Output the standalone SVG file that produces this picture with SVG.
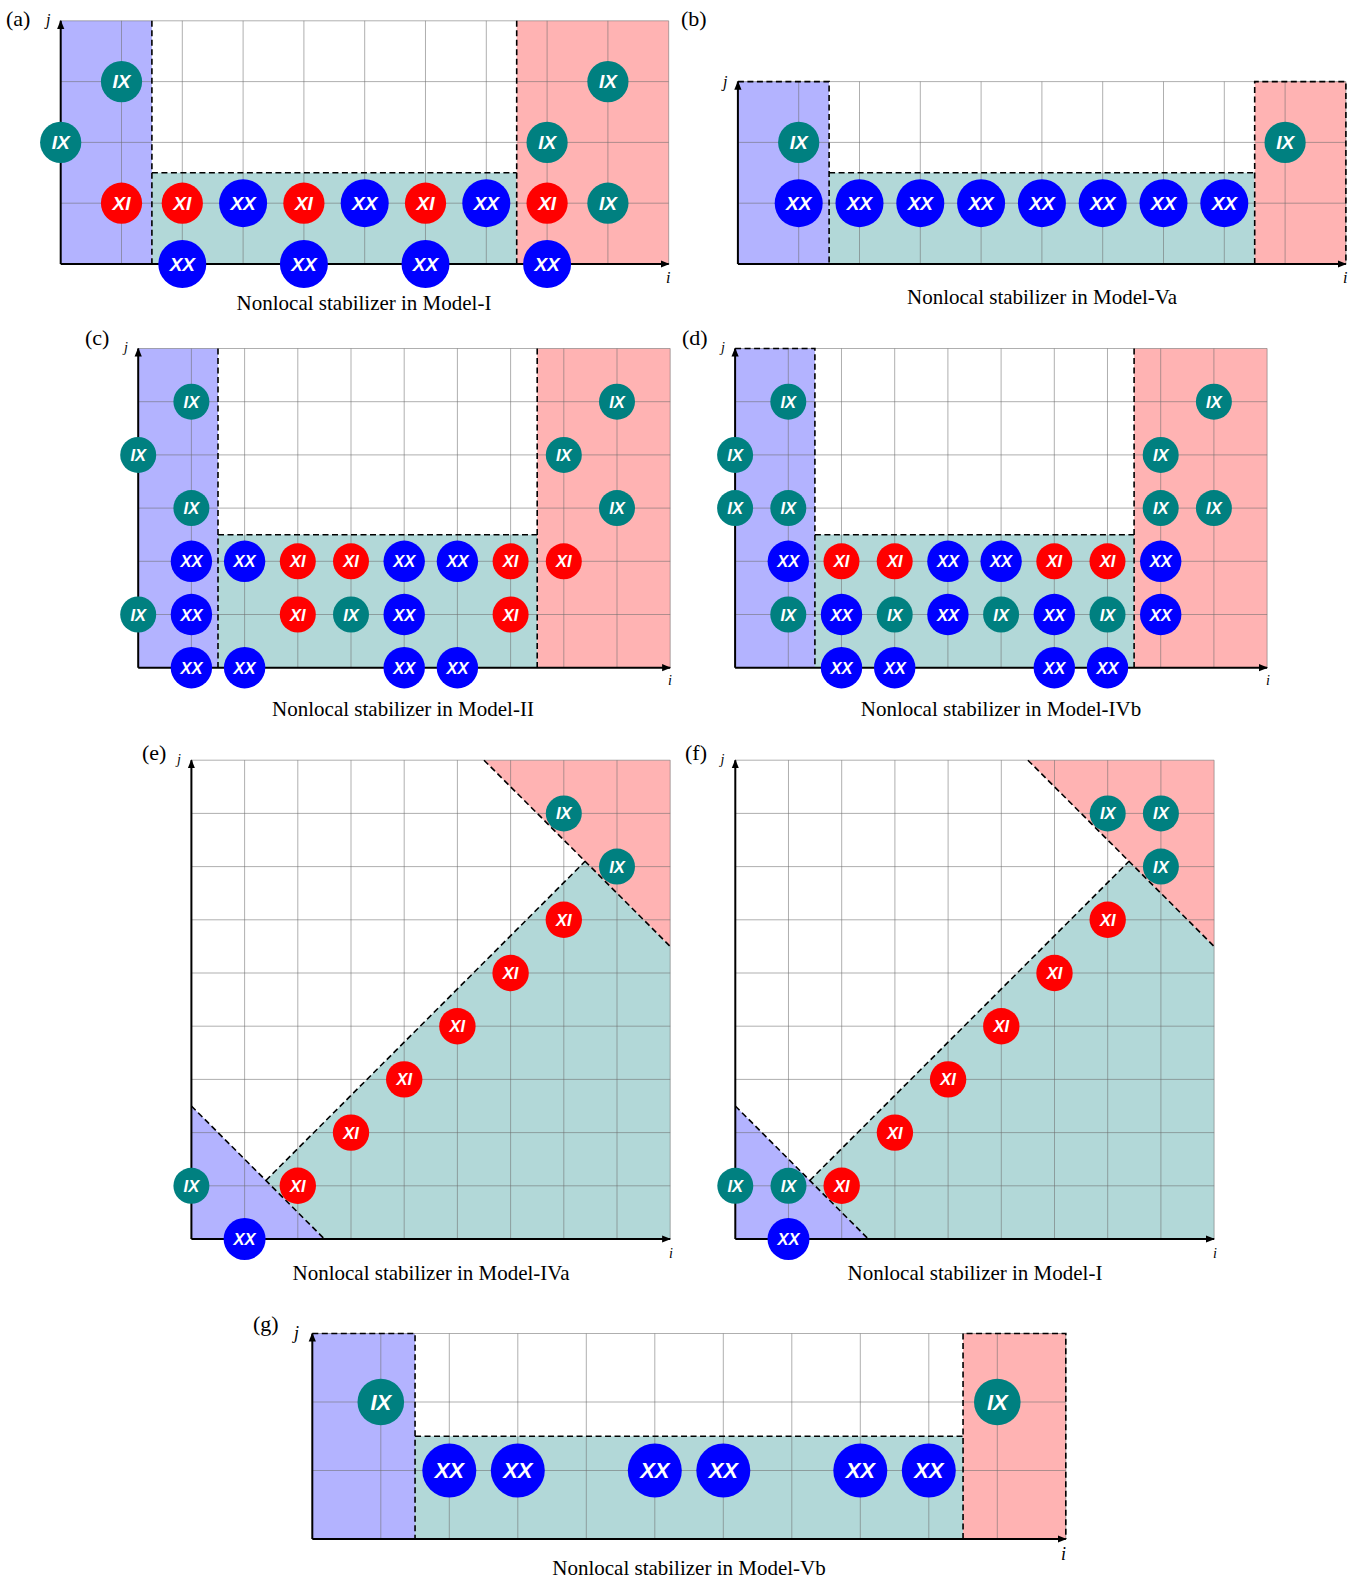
<svg xmlns="http://www.w3.org/2000/svg" width="1355" height="1581" viewBox="0 0 1355 1581">
<style>
.bg{fill:#fff}
.blue{fill:#B3B3FF}
.teal{fill:#B2D8D8}
.pink{fill:#FFB3B3}
.grid{fill:none;stroke:#6e6e6e;stroke-width:1;stroke-opacity:.55}
.dash{fill:none;stroke:#000;stroke-width:1.6;stroke-dasharray:6 3.5}
.axis{fill:none;stroke:#000;stroke-width:2;marker-end:url(#arr)}
.ix circle{fill:#008080}
.xx circle{fill:#0000FF}
.xi circle{fill:#FF0000}
.n text{fill:#fff;font-family:"Liberation Sans",Arial,sans-serif;font-weight:bold;font-style:italic;text-anchor:middle;dominant-baseline:central}
.s18 .n text{font-size:19px}
.s15 .n text{font-size:16.5px}
.s21 .n text{font-size:22px}
.lab{font-family:"Liberation Serif","Times New Roman",serif;font-size:22px;fill:#000}
.ax{font-family:"Liberation Serif","Times New Roman",serif;font-style:italic;font-size:16px;fill:#000}
.cap{font-family:"Liberation Serif","Times New Roman",serif;font-size:21px;fill:#000;text-anchor:middle}
</style>
<defs>
<marker id="arr" viewBox="0 0 10 10" refX="9" refY="5" markerWidth="4.5" markerHeight="4.5" orient="auto" markerUnits="strokeWidth"><path d="M0,1 L10,5 L0,9 z" fill="#000"/></marker>
</defs>
<rect class="bg" x="0" y="0" width="1355" height="1581"/>

<!-- Panel A -->
<g id="panel-a" class="s18" transform="translate(60.7,264)">
  <rect class="blue" x="0" y="-243.2" width="91.2" height="243.2"/>
  <rect class="teal" x="91.2" y="-91.2" width="364.8" height="91.2"/>
  <rect class="pink" x="456" y="-243.2" width="152" height="243.2"/>
  <path class="grid" d="M60.8,0V-243.2M121.6,0V-243.2M182.4,0V-243.2M243.2,0V-243.2M304,0V-243.2M364.8,0V-243.2M425.6,0V-243.2M486.4,0V-243.2M547.2,0V-243.2M608,0V-243.2M0,-60.8H608M0,-121.6H608M0,-182.4H608M0,-243.2H608"/>
  <path class="dash" d="M91.2,-243.2V0M456,-243.2V0M91.2,-91.2H456"/>
  <g id="a-axes"><path class="axis" d="M0,0H608"/><path class="axis" d="M0,0V-243.2"/></g>
  <g id="a-n1" class="n ix" transform="translate(60.8,-182.4)"><circle r="20.6"/><text>IX</text></g>
  <g id="a-n2" class="n ix" transform="translate(0,-121.6)"><circle r="20.6"/><text>IX</text></g>
  <g id="a-n3" class="n xi" transform="translate(60.8,-60.8)"><circle r="20.6"/><text>XI</text></g>
  <g id="a-n4" class="n xi" transform="translate(121.6,-60.8)"><circle r="20.6"/><text>XI</text></g>
  <g id="a-n5" class="n xx" transform="translate(182.4,-60.8)"><circle r="24"/><text>XX</text></g>
  <g id="a-n6" class="n xi" transform="translate(243.2,-60.8)"><circle r="20.6"/><text>XI</text></g>
  <g id="a-n7" class="n xx" transform="translate(304,-60.8)"><circle r="24"/><text>XX</text></g>
  <g id="a-n8" class="n xi" transform="translate(364.8,-60.8)"><circle r="20.6"/><text>XI</text></g>
  <g id="a-n9" class="n xx" transform="translate(425.6,-60.8)"><circle r="24"/><text>XX</text></g>
  <g id="a-n10" class="n xi" transform="translate(486.4,-60.8)"><circle r="20.6"/><text>XI</text></g>
  <g id="a-n11" class="n ix" transform="translate(547.2,-60.8)"><circle r="20.6"/><text>IX</text></g>
  <g id="a-n12" class="n xx" transform="translate(121.6,0)"><circle r="24"/><text>XX</text></g>
  <g id="a-n13" class="n xx" transform="translate(243.2,0)"><circle r="24"/><text>XX</text></g>
  <g id="a-n14" class="n xx" transform="translate(364.8,0)"><circle r="24"/><text>XX</text></g>
  <g id="a-n15" class="n xx" transform="translate(486.4,0)"><circle r="24"/><text>XX</text></g>
  <g id="a-n16" class="n ix" transform="translate(547.2,-182.4)"><circle r="20.6"/><text>IX</text></g>
  <g id="a-n17" class="n ix" transform="translate(486.4,-121.6)"><circle r="20.6"/><text>IX</text></g>
</g>
<text class="lab" x="6" y="26">(a)</text>
<text class="ax" x="46" y="25">j</text>
<text class="ax" x="666" y="283">i</text>
<text class="cap" x="364" y="310">Nonlocal stabilizer in Model-I</text>

<!-- Panel B -->
<g id="panel-b" class="s18" transform="translate(737.9,264)">
  <rect class="blue" x="0" y="-182.4" width="91.2" height="182.4"/>
  <rect class="teal" x="91.2" y="-91.2" width="425.6" height="91.2"/>
  <rect class="pink" x="516.8" y="-182.4" width="91.2" height="182.4"/>
  <path class="grid" d="M60.8,0V-182.4M121.6,0V-182.4M182.4,0V-182.4M243.2,0V-182.4M304,0V-182.4M364.8,0V-182.4M425.6,0V-182.4M486.4,0V-182.4M547.2,0V-182.4M608,0V-182.4M0,-60.8H608M0,-121.6H608M0,-182.4H608"/>
  <path class="dash" d="M0,-182.4H91.2V0M91.2,-91.2H516.8M516.8,0V-182.4H608V0"/>
  <g id="b-axes"><path class="axis" d="M0,0H608"/><path class="axis" d="M0,0V-182.4"/></g>
  <g id="b-n1" class="n ix" transform="translate(60.8,-121.6)"><circle r="20.6"/><text>IX</text></g>
  <g id="b-n2" class="n xx" transform="translate(60.8,-60.8)"><circle r="24"/><text>XX</text></g>
  <g id="b-n3" class="n xx" transform="translate(121.6,-60.8)"><circle r="24"/><text>XX</text></g>
  <g id="b-n4" class="n xx" transform="translate(182.4,-60.8)"><circle r="24"/><text>XX</text></g>
  <g id="b-n5" class="n xx" transform="translate(243.2,-60.8)"><circle r="24"/><text>XX</text></g>
  <g id="b-n6" class="n xx" transform="translate(304,-60.8)"><circle r="24"/><text>XX</text></g>
  <g id="b-n7" class="n xx" transform="translate(364.8,-60.8)"><circle r="24"/><text>XX</text></g>
  <g id="b-n8" class="n xx" transform="translate(425.6,-60.8)"><circle r="24"/><text>XX</text></g>
  <g id="b-n9" class="n xx" transform="translate(486.4,-60.8)"><circle r="24"/><text>XX</text></g>
  <g id="b-n10" class="n ix" transform="translate(547.2,-121.6)"><circle r="20.6"/><text>IX</text></g>
</g>
<text class="lab" x="681" y="26">(b)</text>
<text class="ax" x="723" y="87">j</text>
<text class="ax" x="1343" y="283">i</text>
<text class="cap" x="1042" y="304">Nonlocal stabilizer in Model-Va</text>

<!-- Panel C -->
<g id="panel-c" class="s15" transform="translate(138.2,667.7)">
  <rect class="blue" x="0" y="-319.2" width="79.8" height="319.2"/>
  <rect class="teal" x="79.8" y="-133" width="319.2" height="133"/>
  <rect class="pink" x="399" y="-319.2" width="133" height="319.2"/>
  <path class="grid" d="M53.2,0V-319.2M106.4,0V-319.2M159.6,0V-319.2M212.8,0V-319.2M266,0V-319.2M319.2,0V-319.2M372.4,0V-319.2M425.6,0V-319.2M478.8,0V-319.2M532,0V-319.2M0,-53.2H532M0,-106.4H532M0,-159.6H532M0,-212.8H532M0,-266H532M0,-319.2H532"/>
  <path class="dash" d="M79.8,-319.2V0M399,-319.2V0M79.8,-133H399"/>
  <g id="c-axes"><path class="axis" d="M0,0H532"/><path class="axis" d="M0,0V-319.2"/></g>
  <g id="c-n1" class="n ix" transform="translate(53.2,-266)"><circle r="18"/><text>IX</text></g>
  <g id="c-n2" class="n ix" transform="translate(0,-212.8)"><circle r="18"/><text>IX</text></g>
  <g id="c-n3" class="n ix" transform="translate(53.2,-159.6)"><circle r="18"/><text>IX</text></g>
  <g id="c-n4" class="n xx" transform="translate(53.2,-106.4)"><circle r="20.7"/><text>XX</text></g>
  <g id="c-n5" class="n xx" transform="translate(106.4,-106.4)"><circle r="20.7"/><text>XX</text></g>
  <g id="c-n6" class="n xi" transform="translate(159.6,-106.4)"><circle r="18"/><text>XI</text></g>
  <g id="c-n7" class="n xi" transform="translate(212.8,-106.4)"><circle r="18"/><text>XI</text></g>
  <g id="c-n8" class="n xx" transform="translate(266,-106.4)"><circle r="20.7"/><text>XX</text></g>
  <g id="c-n9" class="n xx" transform="translate(319.2,-106.4)"><circle r="20.7"/><text>XX</text></g>
  <g id="c-n10" class="n xi" transform="translate(372.4,-106.4)"><circle r="18"/><text>XI</text></g>
  <g id="c-n11" class="n xi" transform="translate(425.6,-106.4)"><circle r="18"/><text>XI</text></g>
  <g id="c-n12" class="n ix" transform="translate(0,-53.2)"><circle r="18"/><text>IX</text></g>
  <g id="c-n13" class="n xx" transform="translate(53.2,-53.2)"><circle r="20.7"/><text>XX</text></g>
  <g id="c-n14" class="n xi" transform="translate(159.6,-53.2)"><circle r="18"/><text>XI</text></g>
  <g id="c-n15" class="n ix" transform="translate(212.8,-53.2)"><circle r="18"/><text>IX</text></g>
  <g id="c-n16" class="n xx" transform="translate(266,-53.2)"><circle r="20.7"/><text>XX</text></g>
  <g id="c-n17" class="n xi" transform="translate(372.4,-53.2)"><circle r="18"/><text>XI</text></g>
  <g id="c-n18" class="n xx" transform="translate(53.2,0)"><circle r="20.7"/><text>XX</text></g>
  <g id="c-n19" class="n xx" transform="translate(106.4,0)"><circle r="20.7"/><text>XX</text></g>
  <g id="c-n20" class="n xx" transform="translate(266,0)"><circle r="20.7"/><text>XX</text></g>
  <g id="c-n21" class="n xx" transform="translate(319.2,0)"><circle r="20.7"/><text>XX</text></g>
  <g id="c-n22" class="n ix" transform="translate(478.8,-266)"><circle r="18"/><text>IX</text></g>
  <g id="c-n23" class="n ix" transform="translate(425.6,-212.8)"><circle r="18"/><text>IX</text></g>
  <g id="c-n24" class="n ix" transform="translate(478.8,-159.6)"><circle r="18"/><text>IX</text></g>
</g>
<text class="lab" x="85" y="345">(c)</text>
<text class="ax" x="124" y="352" style="font-size:14px">j</text>
<text class="ax" x="668" y="685" style="font-size:14px">i</text>
<text class="cap" x="403" y="716">Nonlocal stabilizer in Model-II</text>

<!-- Panel D -->
<g id="panel-d" class="s15" transform="translate(735.1,667.7)">
  <rect class="blue" x="0" y="-319.2" width="79.8" height="319.2"/>
  <rect class="teal" x="79.8" y="-133" width="319.2" height="133"/>
  <rect class="pink" x="399" y="-319.2" width="133" height="319.2"/>
  <path class="grid" d="M53.2,0V-319.2M106.4,0V-319.2M159.6,0V-319.2M212.8,0V-319.2M266,0V-319.2M319.2,0V-319.2M372.4,0V-319.2M425.6,0V-319.2M478.8,0V-319.2M532,0V-319.2M0,-53.2H532M0,-106.4H532M0,-159.6H532M0,-212.8H532M0,-266H532M0,-319.2H532"/>
  <path class="dash" d="M0,-319.2H79.8V0M399,-319.2V0M79.8,-133H399"/>
  <g id="d-axes"><path class="axis" d="M0,0H532"/><path class="axis" d="M0,0V-319.2"/></g>
  <g id="d-n1" class="n ix" transform="translate(53.2,-266)"><circle r="18"/><text>IX</text></g>
  <g id="d-n2" class="n ix" transform="translate(0,-212.8)"><circle r="18"/><text>IX</text></g>
  <g id="d-n3" class="n ix" transform="translate(0,-159.6)"><circle r="18"/><text>IX</text></g>
  <g id="d-n4" class="n ix" transform="translate(53.2,-159.6)"><circle r="18"/><text>IX</text></g>
  <g id="d-n5" class="n xx" transform="translate(53.2,-106.4)"><circle r="20.7"/><text>XX</text></g>
  <g id="d-n6" class="n xi" transform="translate(106.4,-106.4)"><circle r="18"/><text>XI</text></g>
  <g id="d-n7" class="n xi" transform="translate(159.6,-106.4)"><circle r="18"/><text>XI</text></g>
  <g id="d-n8" class="n xx" transform="translate(212.8,-106.4)"><circle r="20.7"/><text>XX</text></g>
  <g id="d-n9" class="n xx" transform="translate(266,-106.4)"><circle r="20.7"/><text>XX</text></g>
  <g id="d-n10" class="n xi" transform="translate(319.2,-106.4)"><circle r="18"/><text>XI</text></g>
  <g id="d-n11" class="n xi" transform="translate(372.4,-106.4)"><circle r="18"/><text>XI</text></g>
  <g id="d-n12" class="n xx" transform="translate(425.6,-106.4)"><circle r="20.7"/><text>XX</text></g>
  <g id="d-n13" class="n ix" transform="translate(53.2,-53.2)"><circle r="18"/><text>IX</text></g>
  <g id="d-n14" class="n xx" transform="translate(106.4,-53.2)"><circle r="20.7"/><text>XX</text></g>
  <g id="d-n15" class="n ix" transform="translate(159.6,-53.2)"><circle r="18"/><text>IX</text></g>
  <g id="d-n16" class="n xx" transform="translate(212.8,-53.2)"><circle r="20.7"/><text>XX</text></g>
  <g id="d-n17" class="n ix" transform="translate(266,-53.2)"><circle r="18"/><text>IX</text></g>
  <g id="d-n18" class="n xx" transform="translate(319.2,-53.2)"><circle r="20.7"/><text>XX</text></g>
  <g id="d-n19" class="n ix" transform="translate(372.4,-53.2)"><circle r="18"/><text>IX</text></g>
  <g id="d-n20" class="n xx" transform="translate(425.6,-53.2)"><circle r="20.7"/><text>XX</text></g>
  <g id="d-n21" class="n xx" transform="translate(106.4,0)"><circle r="20.7"/><text>XX</text></g>
  <g id="d-n22" class="n xx" transform="translate(159.6,0)"><circle r="20.7"/><text>XX</text></g>
  <g id="d-n23" class="n xx" transform="translate(319.2,0)"><circle r="20.7"/><text>XX</text></g>
  <g id="d-n24" class="n xx" transform="translate(372.4,0)"><circle r="20.7"/><text>XX</text></g>
  <g id="d-n25" class="n ix" transform="translate(478.8,-266)"><circle r="18"/><text>IX</text></g>
  <g id="d-n26" class="n ix" transform="translate(425.6,-212.8)"><circle r="18"/><text>IX</text></g>
  <g id="d-n27" class="n ix" transform="translate(425.6,-159.6)"><circle r="18"/><text>IX</text></g>
  <g id="d-n28" class="n ix" transform="translate(478.8,-159.6)"><circle r="18"/><text>IX</text></g>
</g>
<text class="lab" x="682" y="345">(d)</text>
<text class="ax" x="721" y="352" style="font-size:14px">j</text>
<text class="ax" x="1266" y="685" style="font-size:14px">i</text>
<text class="cap" x="1001" y="716">Nonlocal stabilizer in Model-IVb</text>

<!-- Panel E -->
<g id="panel-e" class="s15" transform="translate(191.4,1239)">
  <polygon class="blue" points="0,0 0,-133 133,0"/>
  <polygon class="teal" points="74.48,-58.52 133,0 478.8,0 478.8,-292.6 393.68,-377.72"/>
  <polygon class="pink" points="292.6,-478.8 478.8,-478.8 478.8,-292.6"/>
  <path class="grid" d="M53.2,0V-478.8M106.4,0V-478.8M159.6,0V-478.8M212.8,0V-478.8M266,0V-478.8M319.2,0V-478.8M372.4,0V-478.8M425.6,0V-478.8M478.8,0V-478.8M0,-53.2H478.8M0,-106.4H478.8M0,-159.6H478.8M0,-212.8H478.8M0,-266H478.8M0,-319.2H478.8M0,-372.4H478.8M0,-425.6H478.8M0,-478.8H478.8"/>
  <path class="dash" d="M0,-133L133,0M74.48,-58.52L393.68,-377.72M292.6,-478.8L478.8,-292.6"/>
  <g id="e-axes"><path class="axis" d="M0,0H478.8"/><path class="axis" d="M0,0V-478.8"/></g>
  <g id="e-n1" class="n ix" transform="translate(0,-53.2)"><circle r="18"/><text>IX</text></g>
  <g id="e-n2" class="n xx" transform="translate(53.2,0)"><circle r="21"/><text>XX</text></g>
  <g id="e-n3" class="n xi" transform="translate(106.4,-53.2)"><circle r="18.2"/><text>XI</text></g>
  <g id="e-n4" class="n xi" transform="translate(159.6,-106.4)"><circle r="18.2"/><text>XI</text></g>
  <g id="e-n5" class="n xi" transform="translate(212.8,-159.6)"><circle r="18.2"/><text>XI</text></g>
  <g id="e-n6" class="n xi" transform="translate(266,-212.8)"><circle r="18.2"/><text>XI</text></g>
  <g id="e-n7" class="n xi" transform="translate(319.2,-266)"><circle r="18.2"/><text>XI</text></g>
  <g id="e-n8" class="n xi" transform="translate(372.4,-319.2)"><circle r="18.2"/><text>XI</text></g>
  <g id="e-n9" class="n ix" transform="translate(425.6,-372.4)"><circle r="18"/><text>IX</text></g>
  <g id="e-n10" class="n ix" transform="translate(372.4,-425.6)"><circle r="18"/><text>IX</text></g>
</g>
<text class="lab" x="142" y="760">(e)</text>
<text class="ax" x="177" y="764" style="font-size:14px">j</text>
<text class="ax" x="669" y="1258" style="font-size:14px">i</text>
<text class="cap" x="431" y="1280">Nonlocal stabilizer in Model-IVa</text>

<!-- Panel F -->
<g id="panel-f" class="s15" transform="translate(735.3,1239)">
  <polygon class="blue" points="0,0 0,-133 133,0"/>
  <polygon class="teal" points="74.48,-58.52 133,0 478.8,0 478.8,-292.6 393.68,-377.72"/>
  <polygon class="pink" points="292.6,-478.8 478.8,-478.8 478.8,-292.6"/>
  <path class="grid" d="M53.2,0V-478.8M106.4,0V-478.8M159.6,0V-478.8M212.8,0V-478.8M266,0V-478.8M319.2,0V-478.8M372.4,0V-478.8M425.6,0V-478.8M478.8,0V-478.8M0,-53.2H478.8M0,-106.4H478.8M0,-159.6H478.8M0,-212.8H478.8M0,-266H478.8M0,-319.2H478.8M0,-372.4H478.8M0,-425.6H478.8M0,-478.8H478.8"/>
  <path class="dash" d="M0,-133L133,0M74.48,-58.52L393.68,-377.72M292.6,-478.8L478.8,-292.6"/>
  <g id="f-axes"><path class="axis" d="M0,0H478.8"/><path class="axis" d="M0,0V-478.8"/></g>
  <g id="f-n1" class="n ix" transform="translate(0,-53.2)"><circle r="18"/><text>IX</text></g>
  <g id="f-n2" class="n ix" transform="translate(53.2,-53.2)"><circle r="18"/><text>IX</text></g>
  <g id="f-n3" class="n xx" transform="translate(53.2,0)"><circle r="21"/><text>XX</text></g>
  <g id="f-n4" class="n xi" transform="translate(106.4,-53.2)"><circle r="18.2"/><text>XI</text></g>
  <g id="f-n5" class="n xi" transform="translate(159.6,-106.4)"><circle r="18.2"/><text>XI</text></g>
  <g id="f-n6" class="n xi" transform="translate(212.8,-159.6)"><circle r="18.2"/><text>XI</text></g>
  <g id="f-n7" class="n xi" transform="translate(266,-212.8)"><circle r="18.2"/><text>XI</text></g>
  <g id="f-n8" class="n xi" transform="translate(319.2,-266)"><circle r="18.2"/><text>XI</text></g>
  <g id="f-n9" class="n xi" transform="translate(372.4,-319.2)"><circle r="18.2"/><text>XI</text></g>
  <g id="f-n10" class="n ix" transform="translate(372.4,-425.6)"><circle r="18"/><text>IX</text></g>
  <g id="f-n11" class="n ix" transform="translate(425.6,-425.6)"><circle r="18"/><text>IX</text></g>
  <g id="f-n12" class="n ix" transform="translate(425.6,-372.4)"><circle r="18"/><text>IX</text></g>
</g>
<text class="lab" x="685" y="760">(f)</text>
<text class="ax" x="720.6" y="764" style="font-size:14px">j</text>
<text class="ax" x="1213" y="1258" style="font-size:14px">i</text>
<text class="cap" x="975" y="1280">Nonlocal stabilizer in Model-I</text>

<!-- Panel G -->
<g id="panel-g" class="s21" transform="translate(312.3,1539)">
  <rect class="blue" x="0" y="-205.5" width="102.75" height="205.5"/>
  <rect class="teal" x="102.75" y="-102.75" width="548" height="102.75"/>
  <rect class="pink" x="650.75" y="-205.5" width="102.75" height="205.5"/>
  <path class="grid" d="M68.5,0V-205.5M137,0V-205.5M205.5,0V-205.5M274,0V-205.5M342.5,0V-205.5M411,0V-205.5M479.5,0V-205.5M548,0V-205.5M616.5,0V-205.5M685,0V-205.5M753.5,0V-205.5M0,-68.5H753.5M0,-137H753.5M0,-205.5H753.5"/>
  <path class="dash" d="M0,-205.5H102.75V0M102.75,-102.75H650.75M650.75,0V-205.5H753.5V0"/>
  <g id="g-axes"><path class="axis" d="M0,0H753.5"/><path class="axis" d="M0,0V-205.5"/></g>
  <g id="g-n1" class="n ix" transform="translate(68.5,-137)"><circle r="23.3"/><text>IX</text></g>
  <g id="g-n2" class="n xx" transform="translate(137,-68.5)"><circle r="27"/><text>XX</text></g>
  <g id="g-n3" class="n xx" transform="translate(205.5,-68.5)"><circle r="27"/><text>XX</text></g>
  <g id="g-n4" class="n xx" transform="translate(342.5,-68.5)"><circle r="27"/><text>XX</text></g>
  <g id="g-n5" class="n xx" transform="translate(411,-68.5)"><circle r="27"/><text>XX</text></g>
  <g id="g-n6" class="n xx" transform="translate(548,-68.5)"><circle r="27"/><text>XX</text></g>
  <g id="g-n7" class="n xx" transform="translate(616.5,-68.5)"><circle r="27"/><text>XX</text></g>
  <g id="g-n8" class="n ix" transform="translate(685,-137)"><circle r="23.3"/><text>IX</text></g>
</g>
<text class="lab" x="253" y="1331">(g)</text>
<text class="ax" x="294" y="1339" style="font-size:18px">j</text>
<text class="ax" x="1061" y="1560" style="font-size:18px">i</text>
<text class="cap" x="689" y="1575">Nonlocal stabilizer in Model-Vb</text>
</svg>
